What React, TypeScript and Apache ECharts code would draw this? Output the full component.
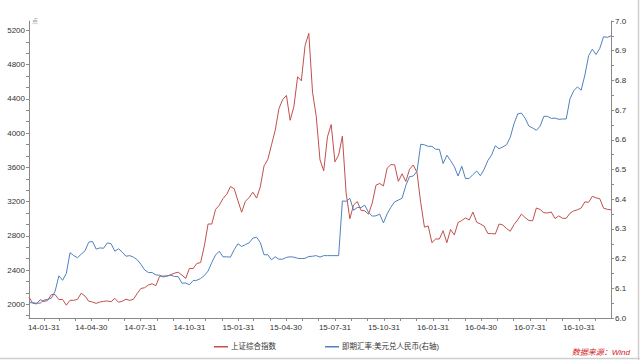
import { useEffect, useRef } from "react";
import * as echarts from "echarts";

// Weekly (Friday) closes, 2014-01-03 .. 2016-12-30
const sse: number[] = [
  2083, 2013, 2004, 2054, 2033, 2044, 2115, 2113, 2056, 2057,
  1990, 2047, 2046, 2058, 2130, 2097, 2036, 2027, 2011, 2026,
  2035, 2039, 2030, 2070, 2024, 2036, 2059, 2046, 2059, 2127,
  2185, 2194, 2226, 2240, 2217, 2327, 2331, 2329, 2347, 2364,
  2375, 2341, 2302, 2420, 2418, 2478, 2487, 2683, 2938, 2938,
  3108, 3157,
  3235, 3285, 3376, 3351, 3210, 3076, 3203, 3247, 3310, 3241,
  3372, 3617, 3691, 3863, 4034, 4287, 4393, 4441, 4150, 4308,
  4658, 4611, 5023, 5166, 4478, 4193, 3687, 3560, 3957, 4100,
  3664, 3744, 3965, 3300, 3000, 3160, 3200, 3097, 3092, 3053,
  3183, 3391, 3412, 3383, 3590, 3632, 3630, 3436, 3525, 3435,
  3578, 3628, 3539,
  3186, 2901, 2916, 2720, 2763, 2763, 2860, 2720, 2874, 2810,
  2955, 2979, 3009, 2985, 3078, 2959, 2938, 2913, 2827, 2826,
  2822, 2938, 2927, 2885, 2854, 2932, 2988, 3054, 3012, 2979,
  2976, 3125, 3108, 3070, 3067, 3078, 3002, 3033, 3005, 3005,
  3064, 3091, 3104, 3125, 3197, 3192, 3262, 3244, 3233, 3123,
  3110, 3104,
];

const usdcny: number[] = [
  6.052, 6.051, 6.05, 6.05, 6.06, 6.063, 6.067, 6.09, 6.142, 6.127,
  6.15, 6.22, 6.21, 6.203, 6.215, 6.226, 6.255, 6.258, 6.232, 6.236,
  6.235, 6.253, 6.25, 6.225, 6.233, 6.222, 6.208, 6.21, 6.205, 6.196,
  6.181, 6.162, 6.153, 6.153, 6.145, 6.144, 6.138, 6.142, 6.144, 6.14,
  6.139, 6.117, 6.118, 6.112, 6.126, 6.127, 6.133, 6.143, 6.158, 6.187,
  6.212, 6.225,
  6.206, 6.206, 6.205, 6.23, 6.25, 6.241, 6.247, 6.253, 6.269, 6.272,
  6.254, 6.213, 6.213, 6.196, 6.206, 6.198, 6.198, 6.204, 6.206, 6.205,
  6.201, 6.2, 6.201, 6.207, 6.208, 6.21, 6.205, 6.21, 6.21, 6.21,
  6.21, 6.21, 6.394, 6.393, 6.403, 6.363, 6.372, 6.372, 6.38, 6.356,
  6.343, 6.344, 6.35, 6.32, 6.351, 6.373, 6.391, 6.397, 6.403, 6.446,
  6.476, 6.478, 6.494,
  6.585, 6.583, 6.578, 6.578, 6.568, 6.568, 6.52, 6.548, 6.53, 6.51,
  6.478, 6.511, 6.469, 6.47, 6.483, 6.495, 6.479, 6.501, 6.53, 6.549,
  6.58, 6.57, 6.576, 6.583, 6.609, 6.654, 6.687, 6.69, 6.672, 6.646,
  6.64, 6.632, 6.646, 6.679, 6.679, 6.672, 6.673, 6.669, 6.67, 6.67,
  6.738, 6.765, 6.778, 6.767, 6.818, 6.883, 6.905, 6.887, 6.908, 6.947,
  6.945, 6.95,
];

const xLabelDates: string[] = [
  "2014-01-31", "2014-04-30", "2014-07-31", "2014-10-31",
  "2015-01-31", "2015-04-30", "2015-07-31", "2015-10-31",
  "2016-01-31", "2016-04-30", "2016-07-31", "2016-10-31",
];

const leftLabels: number[] = [2000, 2400, 2800, 3200, 3600, 4000, 4400, 4800, 5200];

const seriesNames = ["上证综合指数", "即期汇率:美元兑人民币(右轴)"];
const sourceText = "数据来源：Wind";

const FONT = "'Liberation Sans', 'Noto Sans CJK SC', sans-serif";
const RED = "#C0504D";
const BLUE = "#4F81BD";

function toTs(s: string): number {
  const [y, m, d] = s.split("-").map(Number);
  return new Date(y, m - 1, d).getTime();
}

export default function App() {
  const ref = useRef<HTMLDivElement>(null);

  useEffect(() => {
    if (!ref.current) return;
    const chart = echarts.init(ref.current, null, { renderer: "svg" });

    const dates = sse.map((_, i) => new Date(2014, 0, 3 + 7 * i).getTime());
    const minT = dates[0];
    const maxT = dates[dates.length - 1];

    const monthEnds: number[] = [];
    for (let y = 2014; y <= 2016; y++) {
      for (let m = 0; m < 12; m++) {
        const t = new Date(y, m + 1, 0).getTime();
        if (t >= minT && t <= maxT) monthEnds.push(t);
      }
    }
    const labelTs = xLabelDates.map(toTs);

    const leftTicks: number[] = [];
    for (let k = -1; k <= 24; k++) {
      const v = 2000 + (k * 400) / 3;
      if (v >= 1840 && v <= 5310) leftTicks.push(v);
    }

    const pad = (n: number) => (n < 10 ? "0" + n : "" + n);
    const axisColor = "#8a8a8a";
    const labelColor = "#333";

    chart.setOption({
      animation: false,
      backgroundColor: "#fff",
      textStyle: { fontFamily: FONT },
      grid: { left: 29, right: 29, top: 21, bottom: 42, containLabel: false },
      legend: {
        left: 209,
        top: 338,
        icon: "rect",
        itemWidth: 14,
        itemHeight: 1.5,
        itemGap: 49,
        textStyle: { fontSize: 7.5, color: labelColor, fontFamily: FONT, padding: [0, 0, 0, -2] },
        data: [
          { name: seriesNames[0], itemStyle: { color: RED } },
          { name: seriesNames[1], itemStyle: { color: BLUE } },
        ],
      },
      xAxis: {
        type: "value",
        min: minT,
        max: maxT,
        axisLine: { lineStyle: { color: axisColor, width: 1 } },
        axisTick: {
          show: true,
          length: 3,
          customValues: monthEnds,
          lineStyle: { color: axisColor },
        },
        axisLabel: {
          customValues: labelTs,
          fontSize: 8,
          color: labelColor,
          margin: 5,
          fontFamily: FONT,
          formatter: (v: number) => {
            const d = new Date(v);
            return (
              pad(d.getFullYear() % 100) + "-" + pad(d.getMonth() + 1) + "-" + pad(d.getDate())
            );
          },
        },
        splitLine: { show: false },
      },
      yAxis: [
        {
          type: "value",
          min: 1840,
          max: 5310,
          position: "left",
          name: "点",
          nameLocation: "end",
          nameGap: 0,
          nameTextStyle: {
            fontSize: 6,
            color: "#999",
            align: "left",
            verticalAlign: "middle",
            padding: [0, 0, 0, 3],
          },
          axisLine: { show: true, lineStyle: { color: axisColor, width: 1 } },
          axisTick: {
            show: true,
            length: 3,
            customValues: leftTicks,
            lineStyle: { color: axisColor },
          },
          axisLabel: {
            customValues: leftLabels,
            fontSize: 8,
            color: labelColor,
            margin: 4,
            fontFamily: FONT,
            formatter: (v: number) => String(Math.round(v)),
          },
          splitLine: { show: false },
        },
        {
          type: "value",
          min: 6,
          max: 7,
          interval: 0.1,
          position: "right",
          axisLine: { show: true, lineStyle: { color: axisColor, width: 1 } },
          axisTick: { show: true, length: 3, lineStyle: { color: axisColor } },
          minorTick: { show: true, splitNumber: 2, length: 3, lineStyle: { color: axisColor } },
          axisLabel: {
            fontSize: 8,
            color: labelColor,
            margin: 4,
            fontFamily: FONT,
            formatter: (v: number) => v.toFixed(1),
          },
          splitLine: { show: false },
          minorSplitLine: { show: false },
        },
      ],
      series: [
        {
          name: seriesNames[0],
          type: "line",
          yAxisIndex: 0,
          symbol: "none",
          lineStyle: { color: RED, width: 1 },
          itemStyle: { color: RED },
          data: dates.map((t, i) => [t, sse[i]]),
        },
        {
          name: seriesNames[1],
          type: "line",
          yAxisIndex: 1,
          symbol: "none",
          lineStyle: { color: BLUE, width: 1 },
          itemStyle: { color: BLUE },
          data: dates.map((t, i) => [t, usdcny[i]]),
        },
      ],
      graphic: [
        {
          type: "text",
          right: 10,
          top: 348,
          style: {
            text: sourceText,
            fill: "#d42020",
            font: "italic 8px " + FONT,
          },
        },
        {
          type: "line",
          shape: { x1: 638.5, y1: 0, x2: 638.5, y2: 360 },
          style: { stroke: "#cfcfcf", lineWidth: 1.5 },
        },
        {
          type: "line",
          shape: { x1: 0, y1: 358.5, x2: 640, y2: 358.5 },
          style: { stroke: "#cfcfcf", lineWidth: 1.5 },
        },
      ],
    });

    return () => chart.dispose();
  }, []);

  return (
    <div
      ref={ref}
      style={{ position: "absolute", left: 0, top: 0, width: 640, height: 360 }}
    />
  );
}
